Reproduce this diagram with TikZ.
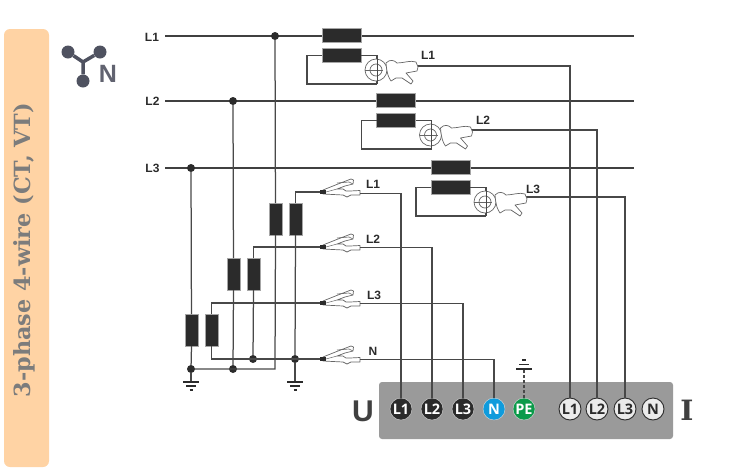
\documentclass[tikz,border=0pt]{standalone}
\usepackage{fontspec}
\setmainfont{Liberation Sans}
\newfontfamily\titlefont{DejaVu Serif}
\newfontfamily\termfont{Open Sans}
\usetikzlibrary{calc}
\definecolor{panel}{HTML}{FFD3A4}
\definecolor{boxgray}{HTML}{9A9A9A}
\definecolor{ink}{HTML}{2B2B2B}
\definecolor{wirec}{HTML}{484848}
\definecolor{nblue}{HTML}{0F9BDC}
\definecolor{pegreen}{HTML}{0B9A4A}
\definecolor{icon}{HTML}{4F5260}
\definecolor{titlegray}{HTML}{7C7C7C}
\tikzset{
  x=1pt,y=-1pt,
  mainline/.style={draw=ink!90,line width=2.4pt},
  wire/.style={draw=wirec,line width=1.25pt},
  coil/.style={draw=gray!70,fill=ink,line width=.6pt,minimum width=39pt,minimum height=13.5pt,inner sep=0pt,outer sep=0pt},
  vcoil/.style={draw=gray!70,fill=ink,line width=.6pt,minimum width=13pt,minimum height=32pt,inner sep=0pt,outer sep=0pt},
  joint/.style={circle,fill=ink,minimum size=8pt,inner sep=0pt,outer sep=0pt},
  lab/.style={font=\bfseries\fontsize{12}{12}\selectfont,text=ink,inner sep=0pt},
  term/.style={circle,minimum size=22pt,inner sep=0pt,outer sep=0pt,font=\termfont\bfseries\fontsize{14.5}{14.5}\selectfont},
  uterm/.style={term,fill=ink,text=white,draw=gray!30,line width=.4pt},
  iterm/.style={term,fill=white!92!black,text=ink,draw=ink,line width=.9pt},
  pics/gnd/.style={code={
    \draw[ink,line width=1.3pt] (-8,0)--(8,0);
    \draw[ink,line width=1.2pt] (-5,4)--(5,4);
    \draw[ink,line width=1.2pt] (-1.5,8)--(1.5,8);
  }},
  pics/croc/.style={code={
    \draw[gray!80!black,fill=white,line width=.7pt,line join=round]
      (3,-2) -- (18,-8) -- (31,-13) -- (33.5,-12) -- (33,-8) -- (25,-6) -- (17,-3) -- (23,-3) -- (26,-1) -- (30,-1) -- (40,-1.5)
      -- (40,3) -- (31,3) -- (27,5) -- (23,3) -- (3,2) -- cycle;
    \draw[gray!80!black,line width=.6pt] (17,-9) -- (29,-10) -- (33,-8);
    \fill[ink] (0,-2) rectangle (6,2);
    \draw[gray!80!black,line width=.5pt] (6,0)--(17,-3);
  }},
  pics/clamp/.style={code={
    \draw[gray!80!black,fill=white,line width=.7pt] (0,0) circle (11);
    \draw[gray!80!black,line width=.7pt] (0,0) circle (6);
    \draw[gray!80!black,line width=.7pt] (-11,0)--(7,0);
    \draw[wirec,line width=1pt] (1,-14)--(1,14);
    \draw[gray!80!black,fill=white,line width=.7pt,line join=round]
      (10,-7) .. controls (14,-11) and (18,-10) .. (21,-7) .. controls (28,-7) and (34,-10) .. (40,-8)
      -- (42,-3) -- (41,1) -- (30,3) -- (37,11) -- (35,14) -- (26,8) -- (20,8) -- (15,11) .. controls (13,8) and (11,5) .. (10,-7) -- cycle;
  }},
}
\begin{document}
\begin{tikzpicture}
\useasboundingbox (0,0) rectangle (747,472);
% side panel
\fill[panel,rounded corners=6pt] (4,29) rectangle (49,467);
\node[rotate=90,text=titlegray,font=\titlefont\bfseries\fontsize{22.3}{22.3}\selectfont,inner sep=0pt] (title) at (24,250) {3-phase 4-wire (CT, VT)};
% star icon
\coordinate (ic0) at (83,62);
\node[circle,fill=icon,minimum size=13pt,inner sep=0pt] (ic1) at (68,52) {};
\node[circle,fill=icon,minimum size=13pt,inner sep=0pt] (ic2) at (100,52) {};
\node[circle,fill=icon,minimum size=13pt,inner sep=0pt] (ic3) at (83,81) {};
\draw[icon,line width=3.5pt] (ic1)--(ic0) (ic2)--(ic0) (ic3)--(ic0);
\node[text=icon!90,font=\bfseries\fontsize{25}{25}\selectfont,inner sep=0pt] (icn) at (108,74) {N};
% line labels and main lines
\node[lab] (LA) at (152,37) {L1};
\node[lab] (LB) at (152.5,101.5) {L2};
\node[lab] (LC) at (152.5,168.5) {L3};
\coordinate (LAe) at (634,36);
\coordinate (LBe) at (634,101);
\coordinate (LCe) at (634,168);
\draw[mainline] (165,36)--(LAe);
\draw[mainline] (165,101)--(LBe);
\draw[mainline] (165,168)--(LCe);
% instrument box
\fill[boxgray,rounded corners=3pt] (379,382) rectangle (673,439);
% joints
\node[joint] (ja) at (275,36) {};
\node[joint] (jb) at (233,101) {};
\node[joint] (jc) at (191,168) {};
\node[joint] (g1) at (191,369) {};
\node[joint] (g2) at (233,369) {};
\node[joint] (n1) at (253,359) {};
\node[joint] (n2) at (295,359) {};
% voltage transformers
\node[vcoil] (va1) at (275.5,219) {};
\node[vcoil] (va2) at (295.5,219) {};
\node[vcoil] (vb1) at (233.5,274) {};
\node[vcoil] (vb2) at (253.5,274) {};
\node[vcoil] (vc1) at (191.5,330) {};
\node[vcoil] (vc2) at (211.5,330) {};
% current transformers
\node[coil] (ca1) at (341.5,35.5) {};
\node[coil] (ca2) at (341.5,55.5) {};
\node[coil] (cb1) at (396,100.5) {};
\node[coil] (cb2) at (396,120.5) {};
\node[coil] (cc1) at (450.5,167.5) {};
\node[coil] (cc2) at (450.5,187.5) {};
% terminals
\node[uterm] (ut1) at (401,409) {L1};
\node[uterm] (ut2) at (432,409) {L2};
\node[uterm] (ut3) at (463,409) {L3};
\node[term,fill=nblue,text=white,draw=white!70!gray,line width=.4pt] (utn) at (494,409) {N};
\node[term,fill=pegreen,text=white,draw=white!70!gray,line width=.4pt] (upe) at (524,409) {PE};
\node[iterm] (it1) at (570,409) {L1};
\node[iterm] (it2) at (597,409) {L2};
\node[iterm] (it3) at (625,409) {L3};
\node[iterm] (itn) at (653,409) {N};
\node[text=ink!90,font=\bfseries\fontsize{30}{30}\selectfont,inner sep=0pt] (bigu) at (363,411) {U};
\node[text=ink!90,font=\titlefont\bfseries\fontsize{28}{28}\selectfont,inner sep=0pt] (bigi) at (687,410) {I};
% ground symbols
\coordinate (gr1) at (191,382);
\coordinate (gr2) at (295,382);
\coordinate (gr3) at (524,369);
\draw[wire] (g1)--(gr1);
\draw[wire] (n2)--(gr2);
\pic at (gr1) {gnd};
\pic at (gr2) {gnd};
\draw[wirec,line width=1.3pt,densely dashed] (upe.north)--(gr3);
\draw[ink,line width=2pt] (516,369)--(532,369);
\draw[ink,line width=1.5pt] (519,364.5)--(529,364.5);
\draw[ink,line width=1.5pt] (522,360)--(526,360);
% primary of VT
\draw[wire] (ja)--(va1);
\draw[wire] (jb)--(vb1);
\draw[wire] (jc)--(vc1);
\coordinate (corner) at (275,369);
\draw[wire] (va1.south) -- (corner) -- (g1);
\draw[wire] (vb1.south) -- (g2);
\draw[wire] (vc1.south) -- (g1);
% secondary of VT
\coordinate (ta) at (320,192);
\coordinate (tb) at (320,247);
\coordinate (tc) at (320,303);
\coordinate (td) at (320,359);
\draw[wire] (va2.north) |- (ta);
\draw[wire] (vb2.north) |- (tb);
\draw[wire] (vc2.north) |- (tc);
\draw[wire] (va2.south) -- (n2);
\draw[wire] (vb2.south) -- (n1);
\draw[wire] (vc2.south) |- (td);
% voltage clips
\pic at (ta) {croc};
\pic at (tb) {croc};
\pic at (tc) {croc};
\pic at (td) {croc};
\node[lab] (va) at (373,184) {L1};
\node[lab] (vb) at (373,239) {L2};
\node[lab] (vc) at (374,295) {L3};
\node[lab] (vd) at (373,351) {N};
\coordinate (xa) at (360,193.5);
\coordinate (xb) at (360,247.5);
\coordinate (xc) at (360,303.5);
\coordinate (xd) at (360,359.5);
\draw[wire] (xa) -| (ut1.north);
\draw[wire] (xb) -| (ut2.north);
\draw[wire] (xc) -| (ut3.north);
\draw[wire] (xd) -| (utn.north);
% CT secondary loops and clamps
\coordinate (ka) at (377,84);
\coordinate (kb) at (431.5,149);
\coordinate (kc) at (486,216);
\draw[wire] (ca2.west) -- ++(-15,0) |- (ka);
\draw[wire] (cb2.west) -- ++(-15,0) |- (kb);
\draw[wire] (cc2.west) -- ++(-15,0) |- (kc);
\draw[wire] (ca2.east) -| (ka);
\draw[wire] (cb2.east) -| (kb);
\draw[wire] (cc2.east) -| (kc);
\coordinate (ya) at (417,66);
\coordinate (yb) at (472,130);
\coordinate (yc) at (526,197);
\draw[wire] (ya) -| (it1.north);
\draw[wire] (yb) -| (it2.north);
\draw[wire] (yc) -| (it3.north);
\pic at (376,70) {clamp};
\pic at (430.5,135) {clamp};
\pic at (485,202) {clamp};
\node[lab] (ia) at (428,55) {L1};
\node[lab] (ib) at (483,120) {L2};
\node[lab] (ic) at (533,189) {L3};
\end{tikzpicture}
\end{document}
